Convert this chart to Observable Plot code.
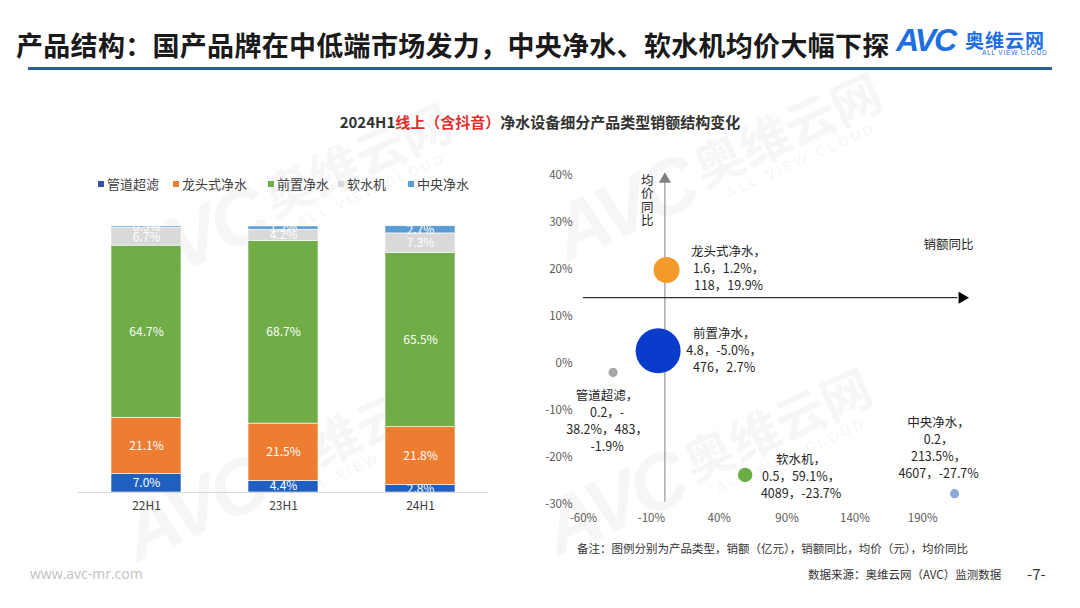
<!DOCTYPE html>
<html><head><meta charset="utf-8">
<script src="https://cdn.jsdelivr.net/npm/d3@7"></script>
<script src="https://cdn.jsdelivr.net/npm/@observablehq/plot@0.6"></script>
<style>
body{margin:0;background:#fff;font-family:"Noto Sans CJK SC","Noto Sans",sans-serif;}
#page{position:relative;width:1080px;height:608px;overflow:hidden;background:#fff;}
.abs{position:absolute;white-space:nowrap;}
.wm{position:absolute;transform:rotate(-24deg);transform-origin:center;color:rgba(120,120,120,0.065);white-space:nowrap;pointer-events:none;}
.wm .a{font-family:"Liberation Sans",sans-serif;font-weight:bold;font-style:italic;font-size:78px;letter-spacing:-4px;display:inline-block;vertical-align:middle;}
.wm .b{display:inline-block;vertical-align:middle;margin-left:8px;text-align:center;}
.wm .b1{font-size:50px;font-weight:bold;line-height:56px;}
.wm .b2{font-family:"Liberation Sans",sans-serif;font-size:14px;letter-spacing:3px;font-weight:bold;}
.leg{position:absolute;top:174px;font-size:13px;color:#404040;}
.leg span.sw{display:inline-block;width:6px;height:6px;margin-right:3px;vertical-align:middle;position:relative;top:-1px;}
</style></head><body><div id="page">
<div id="wms"></div>
<div class="abs" style="left:16px;top:25px;font-size:27px;font-weight:bold;color:#1a1a1a;letter-spacing:0.3px;">产品结构：国产品牌在中低端市场发力，中央净水、软水机均价大幅下探</div>
<div class="abs" style="left:896px;top:22px;font-family:'Liberation Sans',sans-serif;font-weight:bold;font-style:italic;font-size:32px;color:#1E6FE0;letter-spacing:-2px;">AVC</div>
<div class="abs" style="left:965px;top:26px;font-size:19px;font-weight:bold;color:#1E6FE0;letter-spacing:1px;">奥维云网</div>
<div class="abs" style="left:982px;top:49px;font-family:'Liberation Sans',sans-serif;font-size:6.5px;color:#1E6FE0;letter-spacing:0.8px;">ALL VIEW CLOUD</div>
<div class="abs" style="left:28px;top:67px;width:1024px;height:3px;background:#2F5C9A;"></div>
<div class="abs" style="left:0;width:1080px;top:111px;text-align:center;font-size:15px;font-weight:bold;color:#333;">2024H1<span style="color:#E03030">线上（含抖音）</span>净水设备细分产品类型销额结构变化</div>
<div id="legend"></div>
<div id="bar" class="abs" style="left:0;top:200px;"></div>
<div id="bub" class="abs" style="left:540px;top:160px;"></div>
<div class="abs" style="left:577px;top:540px;font-size:11.5px;color:#333;">备注：图例分别为产品类型，销额（亿元），销额同比，均价（元），均价同比</div>
<div class="abs" style="left:808px;top:566px;font-size:11.5px;color:#333;">数据来源：奥维云网（AVC）监测数据</div>
<div class="abs" style="left:1027px;top:563px;font-size:15px;color:#333;">-7-</div>
<div class="abs" style="left:30px;top:564px;font-size:14px;color:#BFBFBF;font-family:'Open Sans',sans-serif;">www.avc-mr.com</div>
</div>
<script>
// ---- Stacked bar data (share of sales, %) ----
const periods = ["22H1", "23H1", "24H1"];
const categories = ["管道超滤", "龙头式净水", "前置净水", "软水机", "中央净水"];
const share22H1 = [7.0, 21.1, 64.7, 6.7, 0.5];
const share23H1 = [4.4, 21.5, 68.7, 4.2, 1.2];
const share24H1 = [2.8, 21.8, 65.5, 7.3, 2.7];
const barColors = ["#1F5FBF", "#ED7D31", "#70AD47", "#D9D9D9", "#5B9BD5"];
const legendColors = ["#2F55A0", "#ED7D31", "#70AD47", "#D9D9D9", "#5B9BD5"];

// ---- Bubble data ----
const bubbleNames = ["管道超滤", "龙头式净水", "前置净水", "软水机", "中央净水"];
const salesAmount = [0.2, 1.6, 4.8, 0.5, 0.2];      // 亿元
const salesYoY = [-38.2, 1.2, -5.0, 59.1, 213.5];   // %
const avgPrice = [483, 118, 476, 4089, 4607];        // 元
const priceYoY = [-1.9, 19.9, 2.7, -23.7, -27.7];   // %
const bubbleColors = ["#A6A6A6", "#F39A2B", "#0A3CCB", "#6AAE45", "#8EA9DB"];
const bubbleLabels = [
  "管道超滤，\n0.2，-\n38.2%，483，\n-1.9%",
  "龙头式净水，\n1.6，1.2%，\n118，19.9%",
  "前置净水，\n4.8，-5.0%，\n476，2.7%",
  "软水机，\n0.5，59.1%，\n4089，-23.7%",
  "中央净水，\n0.2，\n213.5%，\n4607，-27.7%"
];
const labelDx = [-6, 62, 66, 56, -16];
const labelDy = [48, -2, -1, 1, -47];
const xTicks = [-60, -10, 40, 90, 140, 190];
const yTicks = [-30, -20, -10, 0, 10, 20, 30, 40];
const hAxisAt = 14; // 销额同比 arrow crosses at this 均价同比 value

const FONT = '"Noto Sans CJK SC","Noto Sans",sans-serif';

// legend
const legPos = [98, 173, 268, 338, 408];
document.getElementById("legend").innerHTML = categories.map((c, i) =>
  `<div class="leg" style="left:${legPos[i]}px"><span class="sw" style="background:${legendColors[i]}"></span>${c}</div>`).join("");

// bar chart
const shares = [share22H1, share23H1, share24H1];
const barData = periods.flatMap((p, i) => categories.map((c, j) => ({period: p, category: c, value: shares[i][j]})));
const bar = Plot.plot({
  width: 520, height: 320, marginLeft: 77.5, marginRight: 31.5, marginTop: 26, marginBottom: 28,
  x: {domain: periods, paddingInner: 0.49, paddingOuter: 0.245, label: null, tickSize: 0, tickPadding: 9},
  y: {domain: [0, 100], axis: null},
  color: {domain: categories, range: barColors},
  style: {fontFamily: FONT, fontSize: "12px", color: "#404040", background: "transparent"},
  marks: [
    Plot.barY(barData, {x: "period", y: "value", fill: "category", stroke: "#fff", strokeWidth: 0.6}),
    Plot.text(barData, Plot.stackY({x: "period", y: "value", z: "category", text: d => d.value.toFixed(1) + "%", fill: "white", fontSize: 12})),
    Plot.ruleY([0], {stroke: "#D9D9D9"})
  ]
});
document.getElementById("bar").append(bar);

// bubble chart
const bubbleData = bubbleNames.map((n, i) => ({name: n, sales: salesAmount[i], x: salesYoY[i], y: priceYoY[i], label: bubbleLabels[i], dx: labelDx[i], dy: labelDy[i]}));
const bub = Plot.plot({
  width: 440, height: 380, marginLeft: 43, marginRight: 13, marginTop: 15, marginBottom: 36,
  x: {domain: [-60, 223], ticks: xTicks, tickFormat: d => d + "%", tickSize: 0, tickPadding: 9, label: null},
  y: {domain: [-30, 40], ticks: yTicks, tickFormat: d => d + "%", tickSize: 0, tickPadding: 11, label: null},
  r: {domain: [0, 4.8], range: [0, 22.5]},
  color: {domain: bubbleNames, range: bubbleColors},
  style: {fontFamily: FONT, fontSize: "11.5px", color: "#595959", background: "transparent"},
  marks: [
    Plot.ruleX([0], {y1: -29.5, y2: 38.5, stroke: "#808080", strokeWidth: 1}),
    Plot.dot([0], {x: 0, y: 39.2, symbol: "triangle", fill: "#808080", r: 4.5}),
    Plot.ruleY([hAxisAt], {x1: -60, x2: 216, stroke: "#000", strokeWidth: 1}),
    Plot.dot([hAxisAt], {x: 219, y: hAxisAt, symbol: "triangle", rotate: 90, fill: "#000", r: 4.5}),
    Plot.dot(bubbleData, {x: "x", y: "y", r: "sales", fill: "name"}),
    ...bubbleData.map(d => Plot.text([d], {x: "x", y: "y", text: "label", dx: d.dx, dy: d.dy, fill: "#262626", fontSize: 12.5, lineHeight: 1.36, lineAnchor: "middle", textAnchor: "middle"})),
    Plot.text(["销额同比"], {x: 209, y: 25.2, text: d => d, fill: "#262626", fontSize: 12.5}),
    Plot.text(["均\n价\n同\n比"], {x: -13, y: 34.6, text: d => d, fill: "#262626", fontSize: 12.5, lineHeight: 1.08, lineAnchor: "middle"})
  ]
});
document.getElementById("bub").append(bub);

// watermarks
const wmCenters = [[300, 190], [730, 160], [300, 460], [720, 455]];
document.getElementById("wms").innerHTML = wmCenters.map(([cx, cy]) =>
  `<div class="wm" style="left:${cx - 190}px;top:${cy - 45}px;width:380px;"><span class="a">AVC</span><span class="b"><div class="b1">奥维云网</div><div class="b2">ALL VIEW CLOUD</div></span></div>`).join("");
</script>
</body></html>
